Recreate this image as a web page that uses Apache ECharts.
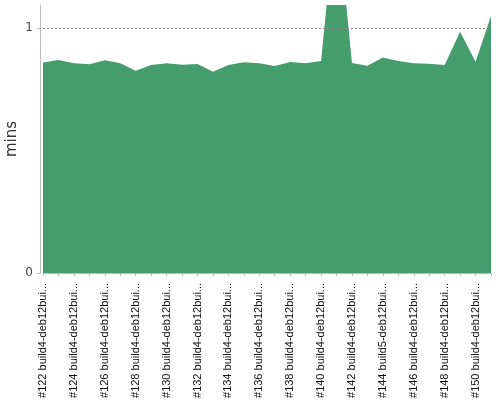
<!DOCTYPE html>
<html><head><meta charset="utf-8">
<script src="https://cdn.jsdelivr.net/npm/echarts@6/dist/echarts.min.js"></script>
<style>html,body{margin:0;padding:0;background:#fff}#c{width:500px;height:400px}</style>
</head><body><div id="c"></div>
<script>
const categories = [
 "#122 build4-deb12bui...","#123 build4-deb12bui...","#124 build4-deb12bui...","#125 build4-deb12bui...",
 "#126 build4-deb12bui...","#127 build4-deb12bui...","#128 build4-deb12bui...","#129 build4-deb12bui...",
 "#130 build4-deb12bui...","#131 build4-deb12bui...","#132 build4-deb12bui...","#133 build4-deb12bui...",
 "#134 build4-deb12bui...","#135 build4-deb12bui...","#136 build4-deb12bui...","#137 build4-deb12bui...",
 "#138 build4-deb12bui...","#139 build4-deb12bui...","#140 build4-deb12bui...","#141 build4-deb12bui...",
 "#142 build4-deb12bui...","#143 build4-deb12bui...","#144 build5-deb12bui...","#145 build4-deb12bui...",
 "#146 build4-deb12bui...","#147 build4-deb12bui...","#148 build4-deb12bui...","#149 build4-deb12bui...",
 "#150 build4-deb12bui...","#151 build4-deb12bui..."
];
const durations = [
 0.859,0.869,0.856,0.852,0.868,0.856,0.826,0.849,
 0.856,0.850,0.853,0.822,0.849,0.860,0.856,0.845,
 0.861,0.856,0.865,1.5,0.857,0.846,0.880,0.865,
 0.856,0.854,0.849,0.985,0.862,1.049
];
const yTicks = [0, 1];
const yMax = 1.094;

const chart = echarts.init(document.getElementById('c'), null, {renderer:'canvas'});
chart.setOption({
  animation:false,
  grid:{left:43,right:9,top:5,bottom:127,containLabel:false,outerBoundsMode:'none'},
  xAxis:{
    type:'category', data:categories, boundaryGap:false, offset:4,
    axisLine:{lineStyle:{color:'#bbb'}},
    axisTick:{show:true, interval:0, length:3, lineStyle:{color:'#bbb'}},
    axisLabel:{rotate:90, interval:1, fontSize:11, color:'#111', fontFamily:'Liberation Sans', margin:6},
    splitLine:{show:false}
  },
  yAxis:{
    type:'value', min:0, max:yMax, interval:1, offset:3,
    name:'mins', nameLocation:'middle', nameGap:20, nameMoveOverlap:false,
    nameTextStyle:{fontSize:15, color:'#333', fontFamily:'DejaVu Sans'},
    axisLine:{show:true, lineStyle:{color:'#bbb'}},
    axisTick:{show:true, length:3, lineStyle:{color:'#bbb'}, customValues:yTicks},
    axisLabel:{fontSize:12, color:'#444', fontFamily:'DejaVu Sans', margin:7, customValues:yTicks},
    splitLine:{show:false}
  },
  series:[{
    type:'line', data:durations, symbol:'none', smooth:false, clip:true,
    lineStyle:{width:0}, itemStyle:{color:'#459d6e'},
    areaStyle:{color:'#459d6e', opacity:1},
    markLine:{silent:true, symbol:'none', label:{show:false},
      lineStyle:{color:'#888', type:[2,2], width:1},
      data:[{yAxis:1}]}
  }]
});
</script></body></html>
